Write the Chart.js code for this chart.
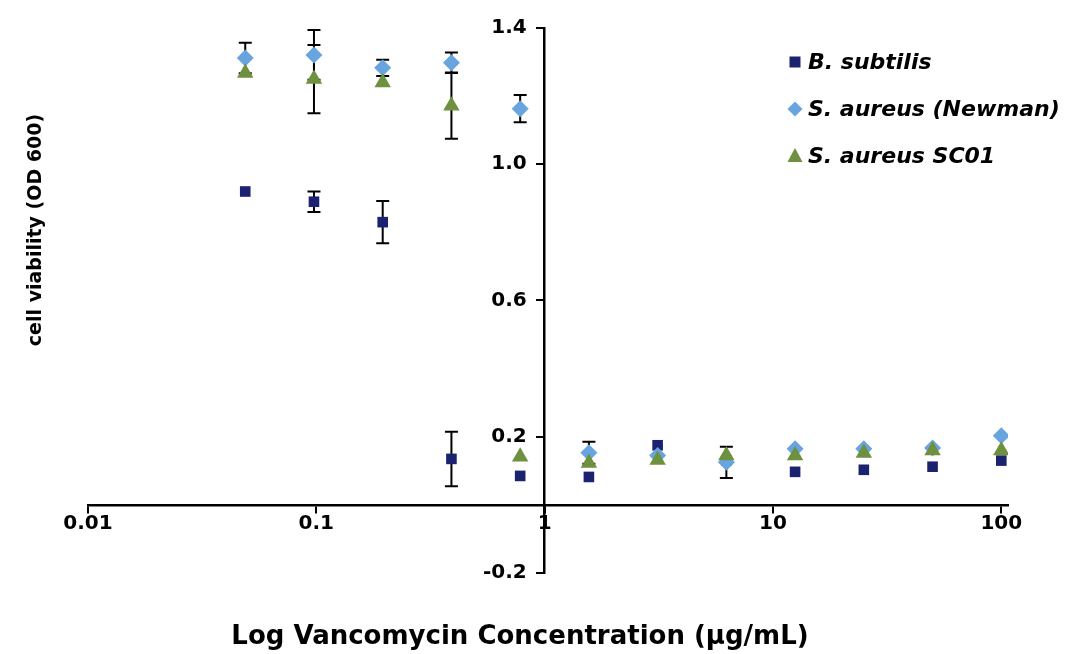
<!DOCTYPE html>
<html>
<head>
<meta charset="utf-8">
<script src="https://cdn.jsdelivr.net/npm/chart.js@4.4.0/dist/chart.umd.min.js"></script>
<style>
html,body{margin:0;padding:0;background:#fff;}
#wrap{width:1065px;height:654px;position:relative;}
</style>
</head>
<body>
<div id="wrap"><canvas id="c" width="1065" height="654"></canvas></div>
<script>
// ---- data ----
const concentrations = [0.048828125, 0.09765625, 0.1953125, 0.390625, 0.78125, 1.5625, 3.125, 6.25, 12.5, 25, 50, 100];
const seriesNames = ['B. subtilis', 'S. aureus (Newman)', 'S. aureus SC01'];
const bSubtilis      = [0.92, 0.89, 0.83, 0.135, 0.085, 0.082, 0.175, 0.13, 0.097, 0.103, 0.112, 0.13];
const bSubtilisErr   = [0, 0.03, 0.062, 0.08, 0, 0, 0, 0, 0, 0, 0, 0];
const newman         = [1.312, 1.321, 1.283, 1.298, 1.163, 0.153, 0.145, 0.125, 0.165, 0.165, 0.167, 0.203];
const newmanErr      = [0.045, 0.073, 0.024, 0.03, 0.04, 0.032, 0, 0.046, 0, 0, 0, 0];
const sc01           = [1.268, 1.25, 1.24, 1.172, 0.141, 0.123, 0.132, 0.145, 0.145, 0.152, 0.16, 0.16];
const sc01Err        = [0, 0.10, 0, 0.097, 0, 0, 0, 0, 0, 0, 0, 0];
const xTickValues = [0.01, 0.1, 1, 10, 100];
const yTickValues = [-0.2, 0.2, 0.6, 1.0, 1.4];
const xTitle = 'Log Vancomycin Concentration (µg/mL)';
const yTitle = 'cell viability (OD 600)';

const colors = ['#1b2270', '#68a4de', '#6e9140'];
const styles = ['rect', 'rectRot', 'triangle'];
const radii = [7.5, 8.5, 9.5];

function pts(vals) { return concentrations.map((c, i) => ({x: c, y: vals[i]})); }

const errorBarPlugin = {
  id: 'errorBars',
  beforeDatasetsDraw(chart) {
    const ctx = chart.ctx;
    const ys = chart.scales.y;
    ctx.save();
    ctx.strokeStyle = '#000';
    ctx.lineWidth = 2;
    chart.data.datasets.forEach((ds, di) => {
      const meta = chart.getDatasetMeta(di);
      meta.data.forEach((el, j) => {
        const v = ds.data[j].y, e = ds.errors[j];
        if (!e) return;
        const yt = ys.getPixelForValue(v + e), yb = ys.getPixelForValue(v - e);
        const x = el.x;
        ctx.beginPath();
        ctx.moveTo(x, yt); ctx.lineTo(x, yb);
        ctx.moveTo(x - 6.5, yt); ctx.lineTo(x + 6.5, yt);
        ctx.moveTo(x - 6.5, yb); ctx.lineTo(x + 6.5, yb);
        ctx.stroke();
      });
    });
    ctx.restore();
  }
};

const annotatePlugin = {
  id: 'annot',
  afterDraw(chart) {
    const ctx = chart.ctx;
    ctx.save();
    ctx.fillStyle = '#000';
    // axis titles
    ctx.font = 'bold 26px "DejaVu Sans"';
    ctx.textAlign = 'center';
    ctx.textBaseline = 'middle';
    ctx.fillText(xTitle, 520, 637);
    ctx.save();
    ctx.translate(36, 230);
    ctx.rotate(-Math.PI / 2);
    ctx.font = 'bold 19px "DejaVu Sans"';
    ctx.fillText(yTitle, 0, 0);
    ctx.restore();
    // legend
    const ly = [62, 109, 156];
    const lx = 795;
    ctx.font = 'italic bold 22px "DejaVu Sans"';
    ctx.textAlign = 'left';
    seriesNames.forEach((name, i) => {
      const y = ly[i];
      ctx.fillStyle = colors[i];
      ctx.beginPath();
      if (i === 0) {
        ctx.rect(lx - 5.5, y - 5.5, 11, 11);
      } else if (i === 1) {
        ctx.moveTo(lx - 7.5, y); ctx.lineTo(lx, y - 7.5); ctx.lineTo(lx + 7.5, y); ctx.lineTo(lx, y + 7.5);
      } else {
        ctx.moveTo(lx, y - 8); ctx.lineTo(lx + 7.5, y + 6); ctx.lineTo(lx - 7.5, y + 6);
      }
      ctx.closePath();
      ctx.fill();
      ctx.fillStyle = '#000';
      ctx.fillText(name, 808, y + 1);
    });
    ctx.restore();
  }
};

const seriesValues = [bSubtilis, newman, sc01];
const seriesErrors = [bSubtilisErr, newmanErr, sc01Err];
const orders = [3, 2, 1];

new Chart(document.getElementById('c'), {
  type: 'scatter',
  data: {
    datasets: seriesNames.map((n, i) => ({
      label: n,
      data: pts(seriesValues[i]),
      errors: seriesErrors[i],
      pointStyle: styles[i],
      pointRadius: radii[i],
      pointHoverRadius: radii[i],
      backgroundColor: colors[i],
      borderColor: colors[i],
      pointBorderWidth: 0,
      order: orders[i]
    }))
  },
  options: {
    responsive: false,
    devicePixelRatio: 1,
    animation: false,
    layout: {padding: {left: 88, right: 57, top: 28, bottom: 81}},
    plugins: {legend: {display: false}, tooltip: {enabled: false}},
    scales: {
      x: {
        type: 'logarithmic',
        min: 0.01,
        max: 107,
        position: {y: 0},
        afterBuildTicks(scale) { scale.ticks = xTickValues.map(v => ({value: v})); },
        border: {display: true, color: '#000', width: 2.5},
        grid: {display: true, drawOnChartArea: false, drawTicks: true, tickLength: 7, color: '#000', lineWidth: 2},
        ticks: {
          color: '#000', font: {family: 'DejaVu Sans', weight: 'bold', size: 20}, padding: 0,
          maxRotation: 0, autoSkip: false,
          callback(v) { return String(v); }
        }
      },
      y: {
        type: 'linear',
        min: -0.2,
        max: 1.4,
        position: {x: 1},
        afterBuildTicks(scale) { scale.ticks = yTickValues.map(v => ({value: v})); },
        border: {display: true, color: '#000', width: 2.5},
        grid: {display: true, drawOnChartArea: false, drawTicks: true, tickLength: 7, color: '#000', lineWidth: 2},
        ticks: {
          color: '#000', font: {family: 'DejaVu Sans', weight: 'bold', size: 20}, padding: 8,
          callback(v) { return Number(v).toFixed(1) + '  \u2009'; }
        }
      }
    }
  },
  plugins: [errorBarPlugin, annotatePlugin]
});
</script>
</body>
</html>
